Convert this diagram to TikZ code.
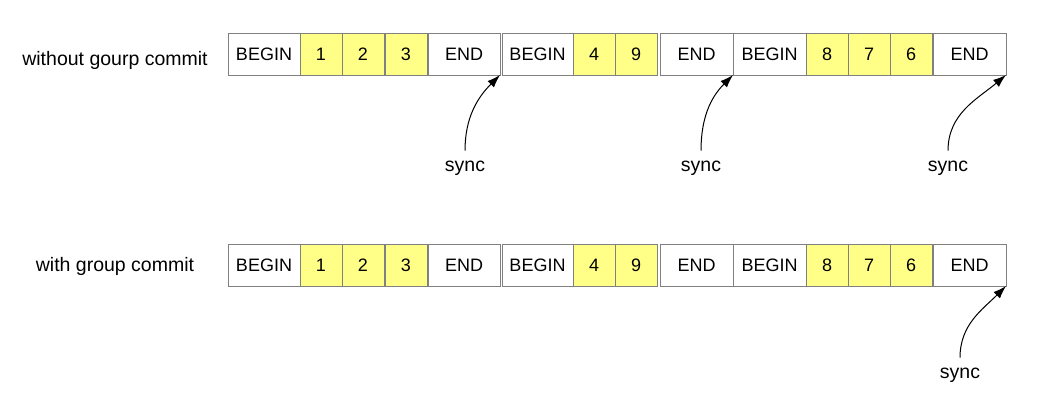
\documentclass[tikz,border=0pt]{standalone}
\usepackage{fontspec}
\setmainfont{Liberation Sans}
\usetikzlibrary{arrows.meta}
\definecolor{logyellow}{RGB}{255,255,136}

\begin{document}
\begin{tikzpicture}[x=1pt,y=-1pt,thick,
    cell node/.style={rectangle,draw=black!50,line width=1pt,anchor=west,minimum height=42pt,inner sep=0pt,outer sep=0pt,text height=13pt,text depth=0pt,font=\fontsize{18}{21}\selectfont},
    op node/.style={cell node,fill=logyellow,minimum width=42pt},
    begin node/.style={cell node,minimum width=72pt},
    end node/.style={cell node,minimum width=72pt},
    row label/.style={font=\fontsize{19.5}{23}\selectfont},
    sync node/.style={font=\fontsize{19.5}{23}\selectfont,inner sep=0pt,outer ysep=10pt},
    sync arrow/.style={line width=1pt,-{Latex[length=13pt,width=9pt]}}]
    \useasboundingbox (0,0) rectangle (1042,400);

    % without group commit
    \node[row label] (L1) at (115,60) {without gourp commit};
    \node[begin node] (B1) at (228,54) {BEGIN};
    \node[op node] (a1) at (300,54) {1};
    \node[op node] (a2) at (342,54) {2};
    \node[op node] (a3) at (385,54) {3};
    \node[end node] (E1) at (428,54) {END};
    \node[begin node, minimum width=71pt] (B2) at (502,54) {BEGIN};
    \node[op node] (a4) at (573,54) {4};
    \node[op node] (a5) at (615,54) {9};
    \node[end node, minimum width=73pt] (E2) at (660,54) {END};
    \node[begin node, minimum width=73pt] (B3) at (733,54) {BEGIN};
    \node[op node] (a6) at (806,54) {8};
    \node[op node] (a7) at (848,54) {7};
    \node[op node] (a8) at (890,54) {6};
    \node[end node, minimum width=73pt] (E3) at (933,54) {END};

    \node[sync node] (S1) at (465,168) {sync};
    \node[sync node] (S2) at (701,168) {sync};
    \node[sync node] (S3) at (948,168) {sync};
    \draw[sync arrow] (S1.north) to[out=90,in=225] (E1.south east);
    \draw[sync arrow] (S2.north) to[out=90,in=225] (E2.south east);
    \draw[sync arrow] (S3.north) to[out=90,in=220] (E3.south east);

    % with group commit
    \node[row label] (L2) at (115,266) {with group commit};
    \node[begin node] (G1) at (228,265) {BEGIN};
    \node[op node] (b1) at (300,265) {1};
    \node[op node] (b2) at (342,265) {2};
    \node[op node] (b3) at (385,265) {3};
    \node[end node] (H1) at (428,265) {END};
    \node[begin node, minimum width=71pt] (G2) at (502,265) {BEGIN};
    \node[op node] (b4) at (573,265) {4};
    \node[op node] (b5) at (615,265) {9};
    \node[end node, minimum width=73pt] (H2) at (660,265) {END};
    \node[begin node, minimum width=73pt] (G3) at (733,265) {BEGIN};
    \node[op node] (b6) at (806,265) {8};
    \node[op node] (b7) at (848,265) {7};
    \node[op node] (b8) at (890,265) {6};
    \node[end node, minimum width=73pt] (H3) at (933,265) {END};

    \node[sync node] (S4) at (960,375) {sync};
    \draw[sync arrow] (S4.north) to[out=90,in=225] (H3.south east);
\end{tikzpicture}
\end{document}
